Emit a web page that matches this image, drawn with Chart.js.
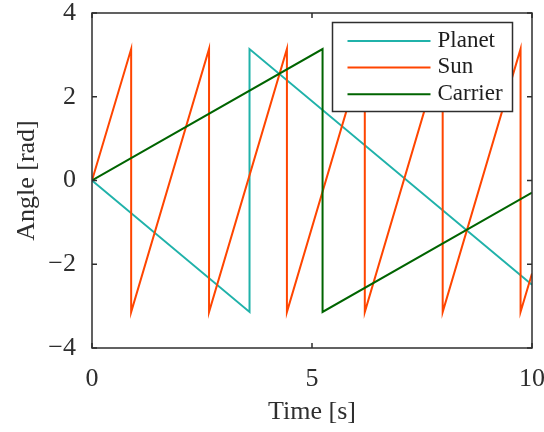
<!DOCTYPE html>
<html>
<head>
<meta charset="utf-8">
<script src="https://cdn.jsdelivr.net/npm/chart.js@4.4.1/dist/chart.umd.min.js"></script>
<style>
  html, body { margin: 0; padding: 0; background: #fff; }
  #wrap { width: 544px; height: 432px; }
</style>
</head>
<body>
<div id="wrap"><canvas id="angleChart" width="544" height="432"></canvas></div>
<script>
// wrapped angles of the gear set, vertices of each sawtooth
var seriesNames = ['Planet', 'Sun', 'Carrier'];
var seriesColors = ['#20b2aa', '#ff4500', '#006400'];

var planetTime  = [0, 3.58, 3.58, 10];
var planetAngle = [0, -3.14, 3.14, -2.49];

var sunTime  = [0, 0.89, 0.89, 2.66, 2.66, 4.43, 4.43, 6.20, 6.20, 7.97, 7.97, 9.74, 9.74, 10];
var sunAngle = [0, 3.14, -3.14, 3.14, -3.14, 3.14, -3.14, 3.14, -3.14, 3.14, -3.14, 3.14, -3.14, -2.22];

var carrierTime  = [0, 5.24, 5.24, 10];
var carrierAngle = [0, 3.14, -3.14, -0.29];

var xTicks = [0, 5, 10];
var yTicks = [-4, -2, 0, 2, 4];

function toPoints(xs, ys) {
    var pts = [];
    for (var i = 0; i < xs.length; i++) {
        pts.push({ x: xs[i], y: ys[i] });
    }
    return pts;
}

function minus(v) {
    return String(v).replace('-', '\u2212');
}

var axisColor = '#2e2e2e';
var serif = '"Liberation Serif", "DejaVu Serif", serif';

// box + inward ticks on all four sides
var framePlugin = {
    id: 'frame',
    afterDatasetsDraw: function (chart) {
        var ctx = chart.ctx;
        var a = chart.chartArea;
        var xs = chart.scales.x, ys = chart.scales.y;
        var len = 5;
        ctx.save();
        ctx.strokeStyle = axisColor;
        ctx.lineWidth = 1.5;
        ctx.beginPath();
        xTicks.forEach(function (v) {
            var px = xs.getPixelForValue(v);
            ctx.moveTo(px, a.bottom); ctx.lineTo(px, a.bottom - len);
            ctx.moveTo(px, a.top); ctx.lineTo(px, a.top + len);
        });
        yTicks.forEach(function (v) {
            var py = ys.getPixelForValue(v);
            ctx.moveTo(a.left, py); ctx.lineTo(a.left + len, py);
            ctx.moveTo(a.right, py); ctx.lineTo(a.right - len, py);
        });
        ctx.stroke();
        ctx.strokeRect(a.left, a.top, a.right - a.left, a.bottom - a.top);
        ctx.restore();
    }
};

// legend box in the upper right corner of the plot
var legendPlugin = {
    id: 'boxLegend',
    afterDraw: function (chart) {
        var ctx = chart.ctx;
        var a = chart.chartArea;
        var w = 180, h = 89;
        var x0 = a.right - 19.5 - w, y0 = a.top + 9.5;
        ctx.save();
        ctx.fillStyle = '#fff';
        ctx.fillRect(x0, y0, w, h);
        ctx.strokeStyle = axisColor;
        ctx.lineWidth = 1.5;
        ctx.strokeRect(x0, y0, w, h);
        ctx.font = '23px ' + serif;
        ctx.textBaseline = 'alphabetic';
        ctx.textAlign = 'left';
        chart.data.datasets.forEach(function (ds, i) {
            var ly = y0 + 18.5 + i * 26.6;
            ctx.strokeStyle = ds.borderColor;
            ctx.lineWidth = 2;
            ctx.beginPath();
            ctx.moveTo(x0 + 15, ly);
            ctx.lineTo(x0 + 98, ly);
            ctx.stroke();
            ctx.fillStyle = '#1e1e1e';
            ctx.fillText(ds.label, x0 + 105, ly + 5.5);
        });
        ctx.restore();
    }
};

var datasets = [
    { label: seriesNames[0], data: toPoints(planetTime, planetAngle), borderColor: seriesColors[0], order: 3 },
    { label: seriesNames[1], data: toPoints(sunTime, sunAngle), borderColor: seriesColors[1], order: 2 },
    { label: seriesNames[2], data: toPoints(carrierTime, carrierAngle), borderColor: seriesColors[2], order: 1 }
];
datasets.forEach(function (ds) {
    ds.borderWidth = 2;
    ds.pointRadius = 0;
    ds.fill = false;
    ds.tension = 0;
});

var ctx = document.getElementById('angleChart').getContext('2d');
var angleChart = new Chart(ctx, {
    type: 'line',
    data: { datasets: datasets },
    options: {
        responsive: false,
        animation: false,
        layout: { padding: { left: 0, top: 13, right: 12, bottom: 0 } },
        plugins: {
            legend: { display: false },
            tooltip: { enabled: false }
        },
        scales: {
            x: {
                type: 'linear',
                min: 0,
                max: 10,
                afterBuildTicks: function (s) { s.ticks = xTicks.map(function (v) { return { value: v }; }); },
                afterFit: function (s) {
                    s.height = 84;
                    s.paddingLeft = 0; s.paddingRight = 0;
                },
                grid: { display: false, drawTicks: false },
                border: { display: false },
                ticks: {
                    padding: 16,
                    color: axisColor,
                    maxRotation: 0,
                    font: { family: serif, size: 26 },
                    callback: function (v) { return minus(v); }
                },
                title: {
                    display: true,
                    text: 'Time [s]',
                    color: axisColor,
                    font: { family: serif, size: 26 },
                    padding: { top: 0, bottom: 4 }
                }
            },
            y: {
                type: 'linear',
                min: -4,
                max: 4,
                afterBuildTicks: function (s) { s.ticks = yTicks.map(function (v) { return { value: v }; }); },
                afterFit: function (s) {
                    s.width = 92;
                    s.paddingTop = 0; s.paddingBottom = 0;
                },
                grid: { display: false, drawTicks: false },
                border: { display: false },
                ticks: {
                    padding: 16,
                    color: axisColor,
                    font: { family: serif, size: 26 },
                    callback: function (v) { return minus(v); }
                },
                title: {
                    display: true,
                    text: 'Angle [rad]',
                    color: axisColor,
                    font: { family: serif, size: 26 },
                    padding: { top: 12, bottom: 0 }
                }
            }
        }
    },
    plugins: [framePlugin, legendPlugin]
});
</script>
</body>
</html>
